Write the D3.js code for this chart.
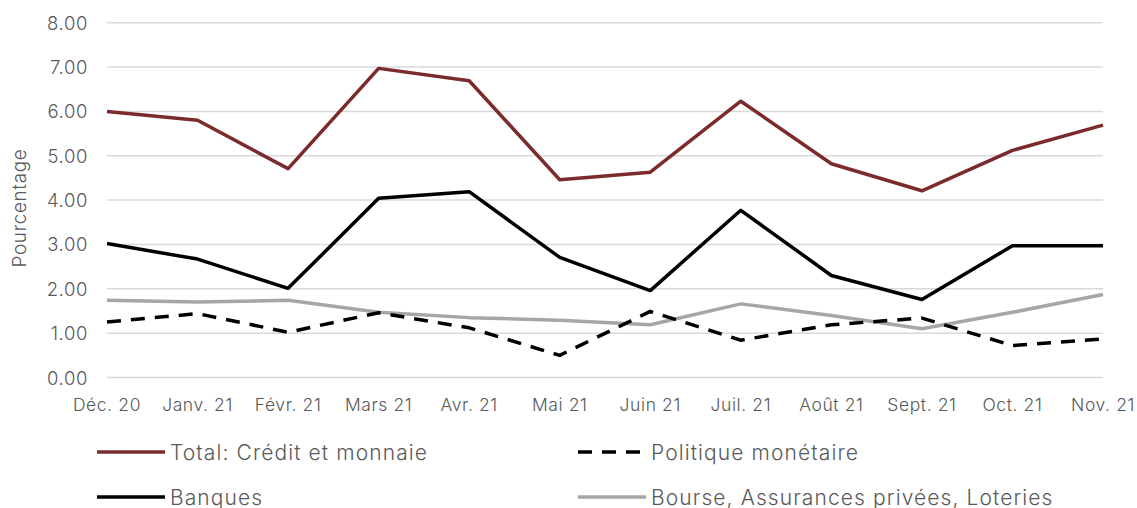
<!DOCTYPE html>
<html lang="fr">
  <head>
    <meta charset="UTF-8" />
    <title>Crédit et monnaie</title>
    <style>
      body { margin: 0; background: #fff; }
      svg text { font-family: "Inter", "Noto Sans", sans-serif; font-weight: 300; letter-spacing: 0.6px; }
      svg .legend text { letter-spacing: 1.1px; }
    </style>
  </head>
  <body>
    <svg width="1137" height="508"></svg>
    <script src="https://cdn.jsdelivr.net/npm/d3@7"></script>
    <script>
      const months = ["Déc. 20", "Janv. 21", "Févr. 21", "Mars 21", "Avr. 21", "Mai 21",
        "Juin 21", "Juil. 21", "Août 21", "Sept. 21", "Oct. 21", "Nov. 21"];
      const total = [6.00, 5.80, 4.71, 6.97, 6.69, 4.46, 4.63, 6.23, 4.82, 4.21, 5.12, 5.69];
      const banques = [3.02, 2.67, 2.01, 4.04, 4.19, 2.71, 1.96, 3.77, 2.30, 1.76, 2.97, 2.97];
      const politique = [1.25, 1.44, 1.02, 1.46, 1.12, 0.50, 1.49, 0.84, 1.19, 1.34, 0.72, 0.87];
      const bourse = [1.74, 1.70, 1.74, 1.47, 1.35, 1.29, 1.19, 1.66, 1.40, 1.10, 1.47, 1.87];
      const yTicks = [0, 1, 2, 3, 4, 5, 6, 7, 8];

      const series = [
        { name: "Total: Crédit et monnaie", values: total, color: "#7b2b2b", dash: null },
        { name: "Politique monétaire", values: politique, color: "#000", dash: "14,10" },
        { name: "Banques", values: banques, color: "#000", dash: null },
        { name: "Bourse, Assurances privées, Loteries", values: bourse, color: "#a6a6a6", dash: null }
      ];

      const svg = d3.select("svg");
      const x = d3.scalePoint().domain(months).range([107, 1103]);
      const y = d3.scaleLinear().domain([0, 8]).range([377.5, 22.7]);

      // gridlines
      svg.append("g")
        .selectAll("line")
        .data(yTicks)
        .enter()
        .append("line")
        .attr("x1", 107).attr("x2", 1103)
        .attr("y1", d => y(d)).attr("y2", d => y(d))
        .attr("stroke", "#d9d9d9")
        .attr("stroke-width", 1.5);

      // y labels
      svg.append("g")
        .selectAll("text")
        .data(yTicks)
        .enter()
        .append("text")
        .attr("x", 88)
        .attr("y", d => y(d) + 7)
        .attr("text-anchor", "end")
        .attr("fill", "#595959")
        .style("font-size", "18.5px")
        .text(d => d.toFixed(2));

      // x labels
      svg.append("g")
        .selectAll("text")
        .data(months)
        .enter()
        .append("text")
        .attr("x", d => x(d))
        .attr("y", 411)
        .attr("text-anchor", "middle")
        .attr("fill", "#595959")
        .style("font-size", "17.5px")
        .text(d => d);

      svg.append("text")
        .attr("transform", "translate(26,208) rotate(-90)")
        .attr("text-anchor", "middle")
        .attr("fill", "#595959")
        .style("font-size", "19px")
        .text("Pourcentage");

      const line = d3.line()
        .x((d, i) => x(months[i]))
        .y(d => y(d));

      // draw order: bottom series first
      [series[3], series[1], series[2], series[0]].forEach(s => {
        svg.append("path")
          .datum(s.values)
          .attr("d", line)
          .attr("fill", "none")
          .attr("stroke", s.color)
          .attr("stroke-width", 3.5)
          .attr("stroke-linejoin", "round")
          .attr("stroke-dasharray", s.dash);
      });

      // legend
      const legend = svg.append("g").attr("class", "legend");
      series.forEach((s, i) => {
        const lx = i % 2 === 0 ? 97 : 578;
        const ly = i < 2 ? 452 : 497;
        legend.append("line")
          .attr("x1", lx).attr("x2", lx + 68)
          .attr("y1", ly).attr("y2", ly)
          .attr("stroke", s.color)
          .attr("stroke-width", 3.5)
          .attr("stroke-dasharray", s.dash);
        legend.append("text")
          .attr("x", lx + 73)
          .attr("y", ly + 7.5)
          .attr("fill", "#595959")
          .style("font-size", "21px")
          .text(s.name);
      });
    </script>
  </body>
</html>
